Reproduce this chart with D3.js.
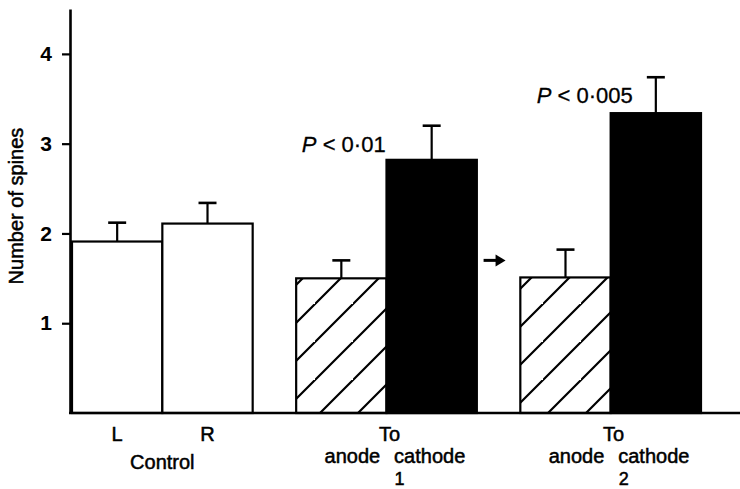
<!DOCTYPE html>
<html>
<head>
<meta charset="utf-8">
<script src="https://cdn.jsdelivr.net/npm/d3@7"></script>
<style>
  body { margin: 0; background: #fff; }
  text { font-family: "Liberation Sans", Arial, sans-serif; fill: #000; }
</style>
</head>
<body>
<div id="chart"></div>
<script>
// data
var groups = ["Control", "1", "2"];
var barNames = [["L", "R"], ["anode", "cathode"], ["anode", "cathode"]];
var barMeans = [[1.91, 2.11], [1.50, 2.82], [1.51, 3.34]];
var barErrors = [[0.21, 0.23], [0.20, 0.38], [0.31, 0.40]];
var barStyles = [["open", "open"], ["hatch", "solid"], ["hatch", "solid"]];
var pLabels = ["0\u00b701", "0\u00b7005"];
var yTicks = [1, 2, 3, 4];

var width = 740, height = 489;

var svg = d3.select("#chart").append("svg")
        .attr("width", width)
        .attr("height", height);

// hatch pattern for the anode bars
var defs = svg.append("defs");
var pat = defs.append("pattern")
        .attr("id", "hatch")
        .attr("patternUnits", "userSpaceOnUse")
        .attr("width", 38)
        .attr("height", 38)
        .attr("x", 11);
pat.append("rect").attr("width", 38).attr("height", 38).attr("fill", "#fff");
pat.append("path")
        .attr("d", "M-2,40 L40,-2 M-40,40 L2,-2 M36,78 L78,36")
        .attr("stroke", "#000")
        .attr("stroke-width", 2.2);

// scales
var y = d3.scaleLinear()
        .domain([0, 4.5])
        .range([413, 9]);

var xGroup = d3.scaleBand()
        .domain(groups)
        .range([72, 701])
        .paddingInner(0.194)
        .paddingOuter(0);

var xBar = d3.scaleBand()
        .domain([0, 1])
        .range([0, xGroup.bandwidth()])
        .padding(0);

// flatten bars
var bars = [];
groups.forEach(function (g, i) {
    for (var j = 0; j < 2; j++) {
        bars.push({
            group: g, gi: i, j: j,
            name: barNames[i][j],
            mean: barMeans[i][j],
            err: barErrors[i][j],
            style: barStyles[i][j]
        });
    }
});

function barX(d) { return xGroup(d.group) + xBar(d.j); }

// bars
svg.selectAll(".bar")
        .data(bars)
        .enter()
        .append("rect")
        .attr("class", "bar")
        .attr("x", barX)
        .attr("y", function (d) { return y(d.mean); })
        .attr("width", xBar.bandwidth())
        .attr("height", function (d) { return y(0) - y(d.mean); })
        .attr("fill", function (d) {
            return d.style === "solid" ? "#000" : (d.style === "hatch" ? "url(#hatch)" : "#fff");
        })
        .attr("stroke", "#000")
        .attr("stroke-width", 2.2);

// error bars
var capHalf = 9;
svg.selectAll(".errline")
        .data(bars)
        .enter()
        .append("line")
        .attr("x1", function (d) { return barX(d) + xBar.bandwidth() / 2; })
        .attr("x2", function (d) { return barX(d) + xBar.bandwidth() / 2; })
        .attr("y1", function (d) { return y(d.mean); })
        .attr("y2", function (d) { return y(d.mean + d.err); })
        .attr("stroke", "#000")
        .attr("stroke-width", 2.2);
svg.selectAll(".errcap")
        .data(bars)
        .enter()
        .append("line")
        .attr("x1", function (d) { return barX(d) + xBar.bandwidth() / 2 - capHalf; })
        .attr("x2", function (d) { return barX(d) + xBar.bandwidth() / 2 + capHalf; })
        .attr("y1", function (d) { return y(d.mean + d.err); })
        .attr("y2", function (d) { return y(d.mean + d.err); })
        .attr("stroke", "#000")
        .attr("stroke-width", 2.6);

// y axis
var yAxis = svg.append("g")
        .attr("transform", "translate(70,0)")
        .call(d3.axisLeft(y).tickValues(yTicks).tickSize(8).tickSizeOuter(0).tickPadding(10).tickFormat(d3.format("d")));
yAxis.select(".domain").attr("stroke-width", 2.6);
yAxis.selectAll(".tick line").attr("stroke-width", 2.2);
yAxis.selectAll(".tick text")
        .style("font-family", "'Liberation Sans', Arial, sans-serif")
        .style("font-size", "21px")
        .style("font-weight", "bold");

// baseline
svg.append("line")
        .attr("x1", 69)
        .attr("x2", width)
        .attr("y1", y(0))
        .attr("y2", y(0))
        .attr("stroke", "#000")
        .attr("stroke-width", 2.6);

// y title
svg.append("text")
        .attr("transform", "translate(23," + 206 + ") rotate(-90)")
        .attr("text-anchor", "middle")
        .style("font-size", "20px")
        .style("stroke", "#000")
        .style("stroke-width", 0.5)
        .text("Number of spines");

// category labels
var lab = svg.append("g")
        .style("font-size", "20px")
        .style("stroke", "#000")
        .style("stroke-width", 0.5)
        .attr("text-anchor", "middle");

bars.forEach(function (d) {
    var cx = barX(d) + xBar.bandwidth() / 2;
    if (d.gi === 0) {
        lab.append("text").attr("x", cx).attr("y", 441).text(d.name);
    } else {
        var dx = d.j === 0 ? 11 : -2;
        lab.append("text").attr("x", cx + dx).attr("y", 463).text(d.name);
    }
});
groups.forEach(function (g, i) {
    var gx = xGroup(g) + xGroup.bandwidth() / 2;
    if (i === 0) {
        lab.append("text").attr("x", gx).attr("y", 469).text(g);
    } else {
        lab.append("text").attr("x", gx + 3).attr("y", 441).text("To");
        lab.append("text").attr("x", gx + 13).attr("y", 485)
                .style("font-size", "18px").text(g);
    }
});

// significance labels above the cathode bars
var annDx = [-46, -23];
bars.filter(function (d) { return d.style === "solid"; }).forEach(function (d, k) {
    var cx = barX(d) + xBar.bandwidth() / 2;
    var t = svg.append("text")
            .attr("x", cx + annDx[k])
            .attr("y", y(d.mean + d.err) + 26)
            .attr("text-anchor", "end")
            .style("font-size", "22px")
            .style("stroke", "#000")
            .style("stroke-width", 0.3);
    t.append("tspan").style("font-style", "italic").text("P");
    t.append("tspan").text(" < " + pLabels[k]);
});

// arrow between session 1 and 2
var ax = (xGroup(groups[1]) + xGroup.bandwidth() + xGroup(groups[2])) / 2 - 4;
var ay = y(1.7);
svg.append("line")
        .attr("x1", ax - 11).attr("x2", ax + 4)
        .attr("y1", ay).attr("y2", ay)
        .attr("stroke", "#000").attr("stroke-width", 3);
svg.append("path")
        .attr("d", "M" + (ax + 1) + "," + (ay - 6) + " L" + (ax + 11) + "," + ay + " L" + (ax + 1) + "," + (ay + 6) + " Z")
        .attr("fill", "#000");
</script>
</body>
</html>
